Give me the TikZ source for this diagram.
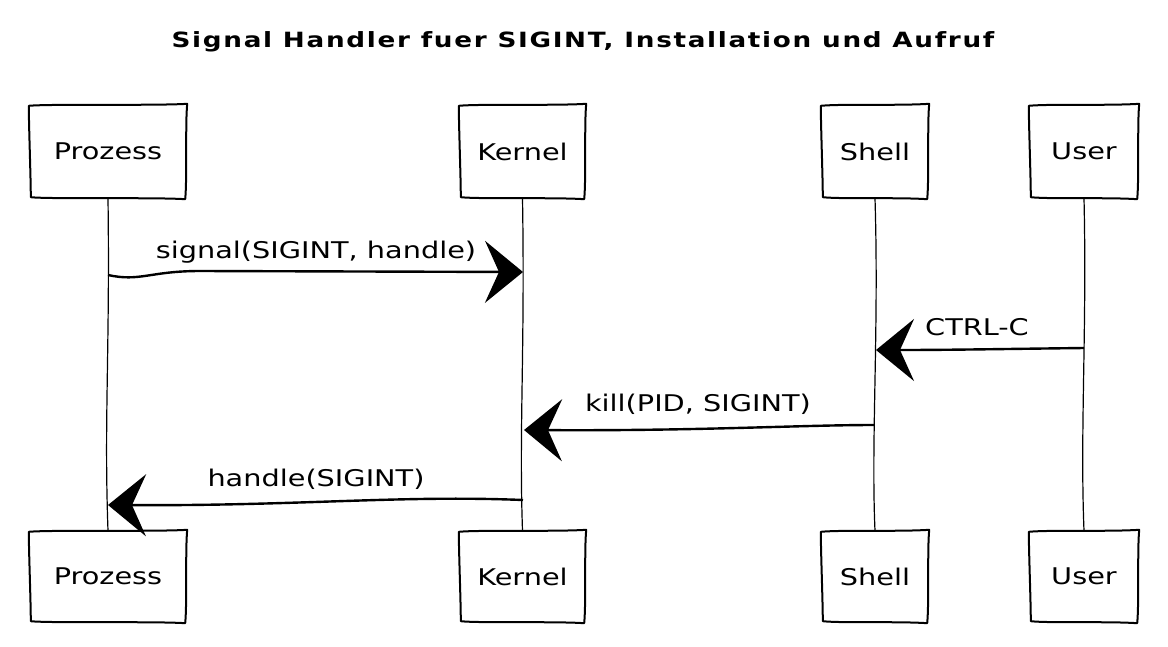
\documentclass[tikz,border=0pt]{standalone}
\usepackage{fontspec}
\setmainfont{DejaVu Sans}[FakeStretch=1.25]
\newfontfamily\titlefont{DejaVu Sans}[FakeStretch=1.25,LetterSpace=8]
\usetikzlibrary{arrows.meta}
\newcommand{\skbox}[1]{%
  \draw[line width=2pt,line join=round]
    ([shift={(-1,1)}]#1.north west) .. controls ([shift={(20,-1)}]#1.north west) and ([shift={(-30,1)}]#1.north east) .. ([shift={(1,-1)}]#1.north east)
    .. controls ([shift={(-1,20)}]#1.north east) and ([shift={(1,-20)}]#1.south east) .. ([shift={(-1,1)}]#1.south east)
    .. controls ([shift={(-30,-1)}]#1.south east) and ([shift={(20,1)}]#1.south west) .. ([shift={(1,-1)}]#1.south west)
    .. controls ([shift={(1,-20)}]#1.south west) and ([shift={(-1,20)}]#1.north west) .. cycle;}
\begin{document}
\begin{tikzpicture}[x=1pt,y=-1pt,
  actor/.style={inner sep=0pt,font=\fontsize{23}{25}\selectfont},
  life/.style={line width=1.2pt},
  msg/.style={line width=2.4pt,-{Stealth[length=38pt,width=62pt,inset=14pt]}},
  lbl/.style={font=\fontsize{23}{25}\selectfont,inner sep=0pt}]
\useasboundingbox (0,0) rectangle (1168,646);
% title
\node[font=\titlefont\bfseries\fontsize{21}{23}\selectfont] (title) at (583,42) {Signal Handler fuer SIGINT, Installation und Aufruf};
% actor boxes
\node[actor,minimum width=156pt,minimum height=93pt] (p1) at (108,151.5) {Prozess};
\node[actor,minimum width=156pt,minimum height=91pt] (p2) at (108,576.5) {Prozess};
\node[actor,minimum width=125pt,minimum height=93pt] (k1) at (522.5,151.5) {Kernel};
\node[actor,minimum width=125pt,minimum height=91pt] (k2) at (522.5,576.5) {Kernel};
\node[actor,minimum width=106pt,minimum height=93pt] (s1) at (875,151.5) {Shell};
\node[actor,minimum width=106pt,minimum height=91pt] (s2) at (875,576.5) {Shell};
\node[actor,minimum width=108pt,minimum height=93pt] (u1) at (1084,151.5) {User};
\node[actor,minimum width=108pt,minimum height=91pt] (u2) at (1084,576.5) {User};
\skbox{p1}\skbox{p2}\skbox{k1}\skbox{k2}\skbox{s1}\skbox{s2}\skbox{u1}\skbox{u2}
% lifelines
\draw[life] (p1.south) .. controls (110,350) and (104,420) .. (p2.north);
\draw[life] (k1.south) .. controls (525,350) and (519,430) .. (k2.north);
\draw[life] (s1.south) .. controls (879,330) and (871,440) .. (s2.north);
\draw[life] (u1.south) .. controls (1087,330) and (1080,430) .. (u2.north);
% message anchor coordinates
\coordinate (m1s) at (108,275);
\coordinate (m1e) at (523,272);
\coordinate (m2s) at (1084,348);
\coordinate (m2e) at (876,350);
\coordinate (m3s) at (874,425);
\coordinate (m3e) at (524,430);
\coordinate (m4s) at (523,500);
\coordinate (m4e) at (108,505);
% messages
\draw[msg] (m1s) .. controls (140,282) and (150,271) .. (200,271) -- (m1e);
\node[lbl] (l1) at (316,252) {signal(SIGINT, handle)};
\draw[msg] (m2s) .. controls (1000,349) and (950,350) .. (m2e);
\node[lbl] (l2) at (977,327) {CTRL-C};
\draw[msg] (m3s) .. controls (800,425) and (700,431) .. (m3e);
\node[lbl] (l3) at (698,404) {kill(PID, SIGINT)};
\draw[msg] (m4s) .. controls (400,495) and (300,506) .. (m4e);
\node[lbl] (l4) at (316,479) {handle(SIGINT)};
\end{tikzpicture}
\end{document}
